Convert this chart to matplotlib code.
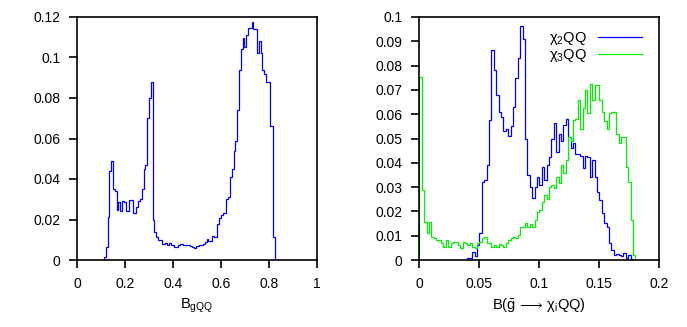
import matplotlib

matplotlib.use("Agg")
import matplotlib.pyplot as plt
import numpy as np

BLUE = "#0000ff"
GREEN = "#00f000"

# left panel: B_gQQ histogram
gqq_start = 0.1125
gqq_width = 0.0075
gqq_vals = [
    0.0016, 0.0066, 0.0214, 0.044, 0.049, 0.035, 0.0343, 0.0247, 0.0288, 0.024,
    0.029, 0.0285, 0.024, 0.024, 0.0295, 0.0295, 0.023, 0.023, 0.026, 0.029,
    0.030, 0.035, 0.045, 0.047, 0.070, 0.080, 0.088, 0.020, 0.014, 0.0115,
    0.0099, 0.0099, 0.008, 0.008, 0.0085, 0.0072, 0.0086, 0.0075, 0.0075, 0.0066,
    0.0066, 0.0072, 0.008, 0.0078, 0.0075, 0.0075, 0.0072, 0.0072, 0.0068, 0.0065,
    0.0058, 0.007, 0.0068, 0.0072, 0.0072, 0.0078, 0.009, 0.0102, 0.0095, 0.0095,
    0.0119, 0.0115, 0.0115, 0.0176, 0.0206, 0.0222, 0.0234, 0.0234, 0.030, 0.031,
    0.041, 0.045, 0.054, 0.0588, 0.074, 0.094, 0.104, 0.1096, 0.105, 0.111,
    0.1145, 0.1145, 0.1177, 0.114, 0.114, 0.102, 0.108, 0.102, 0.094, 0.092,
    0.088, 0.088, 0.066, 0.066, 0.0115, 0.0,
]

# right panel: B(g -> chi_i QQ)
chi2_start = 0.040
chi2_width = 0.002
chi2_vals = [
    0.0007, 0.0007, 0.0034, 0.0015, 0.0062, 0.011, 0.032, 0.033, 0.039, 0.0576,
    0.0864, 0.078, 0.068, 0.061, 0.059, 0.053, 0.054, 0.051, 0.055, 0.063,
    0.075, 0.083, 0.0963, 0.0908, 0.050, 0.035, 0.030, 0.0254, 0.030, 0.0343,
    0.031, 0.0384, 0.033, 0.039, 0.0425, 0.0497, 0.0562, 0.0446, 0.052, 0.049,
    0.0556, 0.0579, 0.0507, 0.046, 0.048, 0.0435, 0.0435, 0.043, 0.0377, 0.043,
    0.0425, 0.034, 0.041, 0.034, 0.028, 0.0247, 0.0192, 0.0151, 0.0137, 0.0072,
    0.0041, 0.002, 0.0025, 0.002, 0.0018, 0.0027, 0.001, 0.002, 0.0005,
]

chi3_start = 0.0
chi3_width = 0.002
chi3_vals = [
    0.0755, 0.029, 0.0156, 0.011, 0.0155, 0.0096, 0.0089, 0.0082, 0.0082, 0.0068,
    0.0055, 0.0082, 0.0055, 0.0068, 0.0075, 0.0075, 0.0062, 0.005, 0.0075, 0.0068,
    0.006, 0.0068, 0.0055, 0.0048, 0.0068, 0.0075, 0.0089, 0.0096, 0.0068, 0.0068,
    0.0055, 0.006, 0.0055, 0.0065, 0.006, 0.0055, 0.0068, 0.0082, 0.0089, 0.0096,
    0.0089, 0.0103, 0.0137, 0.0137, 0.0151, 0.0134, 0.0148, 0.0134, 0.0165, 0.0199,
    0.0206, 0.024, 0.0267, 0.025, 0.030, 0.031, 0.0295, 0.034, 0.0318, 0.039,
    0.0357, 0.041, 0.0507, 0.049, 0.0576, 0.058, 0.066, 0.054, 0.0626, 0.070,
    0.0605, 0.0724, 0.066, 0.072, 0.072, 0.066, 0.061, 0.057, 0.054, 0.0605,
    0.061, 0.061, 0.052, 0.048, 0.0505, 0.0505, 0.0384, 0.0322, 0.0165, 0.002,
]

left_xticks = [0, 0.2, 0.4, 0.6, 0.8, 1]
left_yticks = [0, 0.02, 0.04, 0.06, 0.08, 0.1, 0.12]
right_xticks = [0, 0.05, 0.1, 0.15, 0.2]
right_yticks = [0, 0.01, 0.02, 0.03, 0.04, 0.05, 0.06, 0.07, 0.08, 0.09, 0.1]

plt.rcParams["font.family"] = ["Liberation Sans", "DejaVu Sans"]
plt.rcParams["mathtext.fontset"] = "custom"
plt.rcParams["mathtext.rm"] = "Liberation Sans"
plt.rcParams["mathtext.it"] = "Liberation Sans"
plt.rcParams["mathtext.sf"] = "Liberation Sans"
plt.rcParams["mathtext.fallback"] = "stixsans"


def _edges(start, width, vals):
    return start + width * np.arange(len(vals) + 1)


def _style(ax, xticks, yticks, xlim, ylim):
    ax.set_xlim(*xlim)
    ax.set_ylim(*ylim)
    ax.set_xticks(xticks)
    ax.set_yticks(yticks)
    ax.set_xticklabels([f"{t:g}" for t in xticks])
    ax.set_yticklabels([f"{t:g}" for t in yticks])
    ax.tick_params(direction="out", length=6, width=1.2, labelsize=10,
                   top=False, right=False, pad=6)
    for spine in ax.spines.values():
        spine.set_linewidth(1.2)


fig = plt.figure(figsize=(6.87, 3.27), dpi=100)
ax1 = fig.add_axes([77 / 687, 67 / 327, 240 / 687, 243 / 327])
ax2 = fig.add_axes([419.3 / 687, 67 / 327, 240 / 687, 243 / 327])

ax1.stairs(gqq_vals, _edges(gqq_start, gqq_width, gqq_vals), color=BLUE, lw=0.9)
_style(ax1, left_xticks, left_yticks, (0, 1), (0, 0.12))
ax1.set_xlabel("B$_{\\mathrm{gQQ}}$", fontsize=10.5, labelpad=4)

ax2.stairs(chi2_vals, _edges(chi2_start, chi2_width, chi2_vals), color=BLUE, lw=0.9,
           label="$\\chi_2$QQ")
ax2.stairs(chi3_vals, _edges(chi3_start, chi3_width, chi3_vals), color=GREEN, lw=0.9,
           label="$\\chi_3$QQ")
_style(ax2, right_xticks, right_yticks, (0, 0.2), (0, 0.1))
ax2.set_xlabel("B($\\bar{\\mathrm{g}}\\,\\longrightarrow\\,\\chi_{\\mathrm{i}}$QQ)",
               fontsize=10.5, labelpad=4)
ax2.legend(loc="upper right", frameon=False, markerfirst=False, fontsize=10.5,
           handlelength=3.0, handletextpad=0.8, labelspacing=0.0,
           borderaxespad=0.3, bbox_to_anchor=(0.97, 0.99))

fig.savefig("out.png", dpi=100)
